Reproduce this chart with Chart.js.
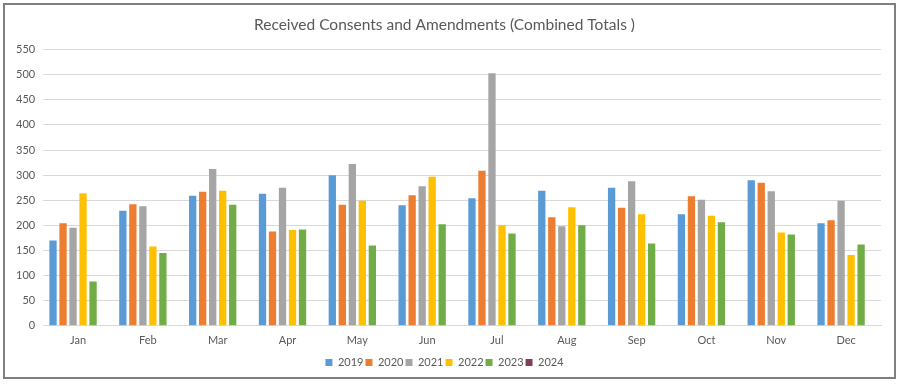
<!DOCTYPE html>
<html>
<head>
<meta charset="utf-8">
<script src="https://cdn.jsdelivr.net/npm/chart.js@4"></script>
<style>
  html, body { margin: 0; padding: 0; background: #fff; }
</style>
</head>
<body>
<canvas id="grafico" width="901" height="384"></canvas>
<script>
const meses = ["Jan", "Feb", "Mar", "Apr", "May", "Jun", "Jul", "Aug", "Sep", "Oct", "Nov", "Dec"];
const anios = ["2019", "2020", "2021", "2022", "2023", "2024"];
const datos2019 = [170, 229, 259, 263, 300, 240, 254, 269, 275, 222, 290, 204];
const datos2020 = [204, 242, 267, 188, 241, 260, 309, 216, 235, 258, 285, 210];
const datos2021 = [195, 238, 312, 275, 322, 278, 503, 198, 288, 251, 268, 249];
const datos2022 = [264, 158, 269, 191, 249, 297, 200, 236, 222, 219, 186, 141];
const datos2023 = [88, 145, 241, 192, 160, 202, 184, 200, 164, 206, 182, 162];
const datos2024 = [null, null, null, null, null, null, null, null, null, null, null, null];
const colores = ["#5b9bd5", "#ed7d31", "#a5a5a5", "#ffc000", "#70ad47", "#843c5c"];

const series = [datos2019, datos2020, datos2021, datos2022, datos2023, datos2024];

const marco = {
    id: "marco",
    beforeDraw(chart) {
        const ctx = chart.ctx;
        ctx.save();
        ctx.fillStyle = "#ffffff";
        ctx.fillRect(0, 0, chart.width, chart.height);
        ctx.strokeStyle = "#7f7f7f";
        ctx.lineWidth = 2;
        ctx.strokeRect(4, 4, 891, 374);
        ctx.restore();
    }
};

let ctx = document.getElementById("grafico").getContext("2d");
let myChart = new Chart(ctx, {
    type: "bar",
    data: {
        labels: meses,
        datasets: series.map((s, i) => ({
            label: anios[i],
            data: s,
            backgroundColor: colores[i],
            borderWidth: 0,
            barPercentage: 0.73,
            categoryPercentage: 0.86,
        })),
    },
    options: {
        responsive: false,
        animation: false,
        devicePixelRatio: 1,
        layout: {
            padding: { left: 8, right: 20, top: 10, bottom: 6 },
        },
        plugins: {
            title: {
                display: true,
                text: "Received Consents and Amendments (Combined Totals )",
                color: "#595959",
                font: { family: "Lato", size: 15.5, weight: "normal" },
                padding: { top: 6, bottom: 15 },
            },
            legend: {
                position: "bottom",
                labels: {
                    boxWidth: 7,
                    boxHeight: 7,
                    padding: 2,
                    color: "#595959",
                    font: { family: "Lato", size: 11 },
                },
            },
            tooltip: { enabled: false },
        },
        scales: {
            x: {
                grid: { display: false },
                border: { color: "#d9d9d9" },
                afterFit: function(scale) {
                    scale.height += 8;
                },
                ticks: {
                    autoSkip: false,
                    padding: 0,
                    color: "#595959",
                    font: { family: "Lato", size: 11 },
                    maxRotation: 0,
                },
            },
            y: {
                min: 0,
                max: 550,
                border: { display: false },
                grid: { color: "#d9d9d9", drawTicks: false },
                ticks: {
                    stepSize: 50,
                    padding: 8,
                    color: "#595959",
                    font: { family: "Lato", size: 11 },
                },
            },
        },
    },
    plugins: [marco],
});
</script>
</body>
</html>
